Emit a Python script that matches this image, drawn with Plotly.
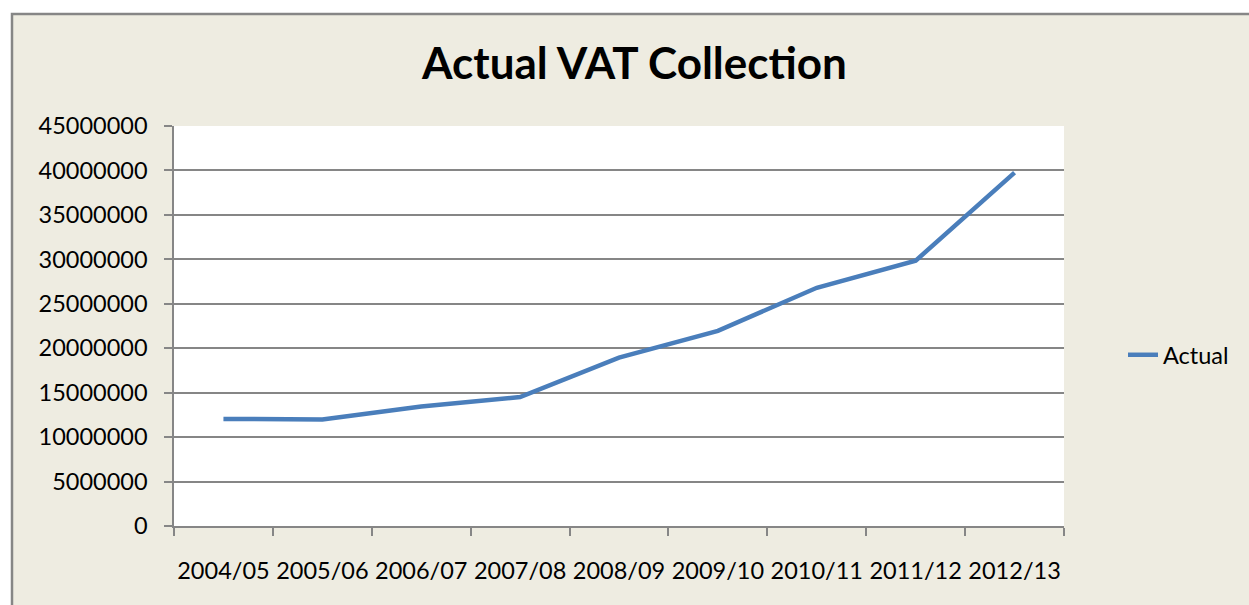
import plotly.graph_objects as go

categories = ["2004/05", "2005/06", "2006/07", "2007/08", "2008/09",
              "2009/10", "2010/11", "2011/12", "2012/13"]
actual = [12050000, 11970000, 13450000, 14500000, 18950000,
          21950000, 26800000, 29850000, 39750000]
y_ticks = [0, 5000000, 10000000, 15000000, 20000000, 25000000,
           30000000, 35000000, 40000000, 45000000]

W, H = 1249, 605
L, R, T, B = 174, 1064, 126, 526
pw, ph = R - L, B - T

def px_x(x):
    return (x - L) / pw

def px_y(y):
    return (B - y) / ph

BG = "#EEECE1"
GRID = "#868686"
FONT = "Lato, 'Open Sans', sans-serif"
FS = 23.5

fig = go.Figure()
fig.add_trace(go.Scatter(
    x=categories, y=actual, mode="lines", name="Actual",
    line=dict(color="#4A7EBB", width=4.5),
))

fig.update_layout(
    width=W, height=H,
    margin=dict(l=L, r=W - R, t=T, b=H - B, pad=0, autoexpand=False),
    paper_bgcolor="white",
    plot_bgcolor="rgba(0,0,0,0)",
    font=dict(family=FONT, size=FS, color="black"),
    title=dict(text="<b>Actual VAT Collection</b>", x=634.5 / W, xanchor="center",
               xref="container", y=1 - 64 / H, yanchor="middle", yref="container",
               font=dict(family=FONT, size=44, color="black")),
    showlegend=True,
    legend=dict(x=px_x(1123), xanchor="left", y=px_y(355), yanchor="middle",
                bgcolor="rgba(0,0,0,0)", font=dict(size=FS, family=FONT),
                itemwidth=30),
    xaxis=dict(
        type="category", range=[-0.5, len(categories) - 0.5],
        showgrid=False, showline=True, linecolor=GRID, linewidth=1.5,
        ticks="outside", ticklen=8, tickcolor=GRID, tickwidth=1.5,
        tickson="boundaries", ticklabelstandoff=23, tickangle=0,
        automargin=False,
        tickfont=dict(size=FS, family=FONT),
    ),
    yaxis=dict(
        range=[0, 45000000], tickvals=y_ticks,
        ticktext=[str(v) for v in y_ticks],
        showgrid=True, gridcolor=GRID, gridwidth=1.5,
        showline=True, linecolor=GRID, linewidth=1.5,
        ticks="outside", ticklen=8, tickcolor=GRID, tickwidth=1.5,
        ticklabelstandoff=12, zeroline=False, automargin=False,
        tickfont=dict(size=FS, family=FONT),
    ),
    shapes=[
        dict(type="rect", xref="paper", yref="paper", layer="below",
             x0=px_x(12), x1=px_x(1400), y0=px_y(800), y1=px_y(14),
             fillcolor=BG, line=dict(color=GRID, width=2.5)),
        dict(type="rect", xref="paper", yref="paper", layer="below",
             x0=0, x1=1, y0=0, y1=1, fillcolor="white", line=dict(width=0)),
    ],
)

fig.write_html("out.html", config={"displayModeBar": False},
               post_script="document.body.style.margin='0';document.body.style.overflow='hidden';")
